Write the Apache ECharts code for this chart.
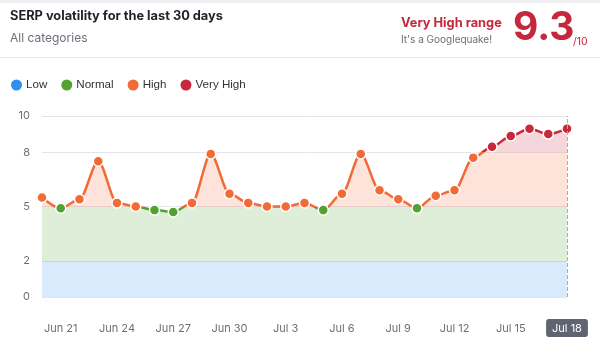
<!DOCTYPE html>
<html><head><meta charset="utf-8">
<script src="https://cdn.jsdelivr.net/npm/echarts@6/dist/echarts.min.js"></script>
<style>html,body{margin:0;padding:0;background:#fff}#c{width:600px;height:354px}</style>
</head><body><div id="c"></div>
<script>
const days = ['Jun 20','Jun 21','Jun 22','Jun 23','Jun 24','Jun 25','Jun 26','Jun 27','Jun 28','Jun 29','Jun 30',
  'Jul 1','Jul 2','Jul 3','Jul 4','Jul 5','Jul 6','Jul 7','Jul 8','Jul 9','Jul 10','Jul 11','Jul 12','Jul 13','Jul 14','Jul 15','Jul 16','Jul 17','Jul 18'];
const volatility = [5.5,4.9,5.4,7.5,5.2,5.0,4.8,4.7,5.2,7.9,5.7,5.2,5.0,5.0,5.2,4.8,5.7,7.9,5.9,5.4,4.9,5.6,5.9,7.7,8.3,8.9,9.3,9.0,9.3];
const yTicks = [0,2,5,8,10];
const rangeNames = ['Low','Normal','High','Very High'];
const rangeColors = ['#2f8ff0','#53a22f','#f26b36','#c8283a'];
const rangeBounds = [[0,2],[2,5],[5,8],[8,10]];

const chart = echarts.init(document.getElementById('c'), null, {renderer:'canvas'});
const FONT = 'Inter, "Noto Sans", sans-serif';
const FONT2 = '"Liberation Sans", Arial, sans-serif';
chart.setOption({
  animation:false,
  textStyle:{fontFamily:FONT},
  grid:{left:42,right:33,top:116,bottom:57},
  legend:{left:6,top:74,icon:'circle',itemWidth:11,itemHeight:11,itemGap:14,
    textStyle:{fontSize:11.6,color:'#333',fontFamily:FONT2,padding:[0,0,0,-1]},
    data:rangeNames},
  visualMap:{show:false,type:'piecewise',dimension:1,seriesIndex:0,
    pieces:rangeBounds.map((b,i)=>(i<3?{gte:b[0],lt:b[1],color:rangeColors[i]}:{gte:b[0],lte:b[1],color:rangeColors[i]}))},
  xAxis:{type:'category',data:days,boundaryGap:false,
    axisLine:{show:false},axisTick:{show:false},
    axisLabel:{interval:(i)=>(i-1)%3===0,color:'#6c6f78',fontSize:11,margin:26},
    axisPointer:{show:true,type:'line',value:'Jul 18',status:'show',triggerTooltip:false,
      lineStyle:{type:'dashed',color:'#a9adb6',width:1},
      label:{show:true,backgroundColor:'#5f6470',color:'#fff',fontSize:11,padding:[4,6,3,6],borderRadius:3,margin:22,fontFamily:FONT}}},
  yAxis:{type:'value',min:0,max:10,interval:1,
    axisLine:{show:false},axisTick:{show:false},
    axisLabel:{color:'#6c6f78',fontSize:11,margin:12,formatter:(v)=>yTicks.includes(v)?String(v):''},
    splitLine:{lineStyle:{color:[0,1,2,3,4,5,6,7,8,9,10].map(v=>yTicks.includes(v)?'#e3e4ec':'rgba(0,0,0,0)'),width:1}}},
  series:[
    {name:'SERP',type:'line',data:volatility,smooth:0.3,smoothMonotone:'x',
      symbol:'circle',symbolSize:10,lineStyle:{width:2.5},
      itemStyle:{borderColor:'#fff',borderWidth:1.5},
      areaStyle:{opacity:0.19},z:3},
    ...rangeNames.map((n,i)=>({name:n,type:'scatter',data:[],itemStyle:{color:rangeColors[i],opacity:1}}))
  ],
  graphic:[
    {type:'rect',shape:{x:0,y:0,width:600,height:3},style:{fill:'#f0f0f4'}},
    {type:'rect',shape:{x:0,y:57,width:600,height:1},style:{fill:'#e6e6ec'}},
    {type:'text',x:10,y:10,style:{text:'SERP volatility for the last 30 days',font:'bold 12.8px '+FONT,fill:'#1f2128'}},
    {type:'text',x:10,y:32,style:{text:'All categories',font:'12px '+FONT,fill:'#6c6f78'}},
    {type:'text',x:401,y:17,style:{text:'Very High range',font:'bold 12.8px '+FONT,fill:'#c4283a'}},
    {type:'text',x:401,y:35,style:{text:"It's a Googlequake!",font:'10px '+FONT,fill:'#6c6f78'}},
    {type:'text',x:513,y:9,style:{text:'9.3',font:'bold 39px '+FONT,fill:'#c4283a'}},
    {type:'text',x:573,y:36,style:{text:'/10',font:'10.5px '+FONT,fill:'#c4283a'}}
  ]
});
</script></body></html>
